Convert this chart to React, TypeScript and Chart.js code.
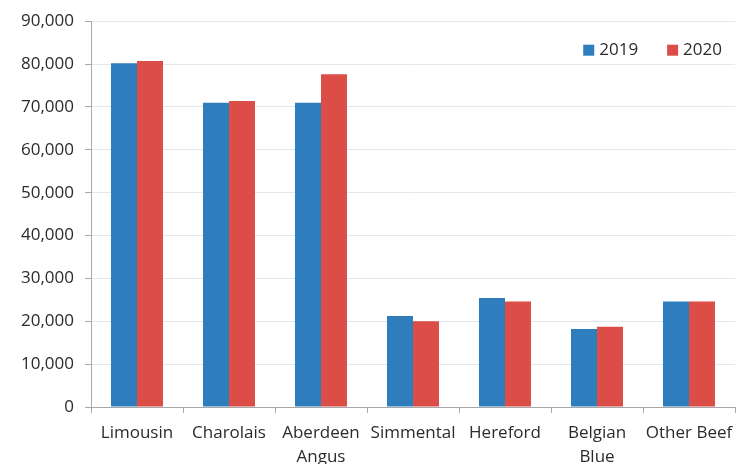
import React, { useEffect, useRef } from "react";
import { Chart, registerables } from "chart.js";

Chart.register(...registerables);

const categories: (string | string[])[] = [
  "Limousin",
  "Charolais",
  ["Aberdeen", "Angus"],
  "Simmental",
  "Hereford",
  ["Belgian", "Blue"],
  "Other Beef",
];
const values2019 = [80200, 71000, 71000, 21200, 25400, 18200, 24600];
const values2020 = [80700, 71400, 77600, 20000, 24600, 18700, 24600];
const seriesLabels = ["2019", "2020"];
const yTicks = [0, 10000, 20000, 30000, 40000, 50000, 60000, 70000, 80000, 90000];

const FONT = '"Open Sans", "DejaVu Sans", sans-serif';
const TEXT_COLOR = "#2b2b2b";

const insideLegend = {
  id: "insideLegend",
  afterDraw(chart: any) {
    const { ctx, chartArea, data } = chart;
    ctx.save();
    ctx.font = `17px ${FONT}`;
    ctx.textBaseline = "middle";
    const box = 11;
    const gapText = 5;
    const gapItem = 29;
    const cy = chartArea.top + 29;
    const items = data.datasets.map((ds: any) => ({
      label: ds.label,
      color: ds.backgroundColor,
      w: ctx.measureText(ds.label).width,
    }));
    let total = 0;
    items.forEach((it: any, i: number) => {
      total += box + gapText + it.w + (i < items.length - 1 ? gapItem : 0);
    });
    let x = chartArea.right - 13 - total;
    items.forEach((it: any) => {
      ctx.fillStyle = it.color;
      ctx.fillRect(x, cy - box / 2, box, box);
      ctx.fillStyle = TEXT_COLOR;
      ctx.textAlign = "left";
      ctx.fillText(it.label, x + box + gapText, cy);
      x += box + gapText + it.w + gapItem;
    });
    ctx.restore();
  },
};

export default function App() {
  const canvasRef = useRef<HTMLCanvasElement | null>(null);

  useEffect(() => {
    if (!canvasRef.current) return;
    const chart = new Chart(canvasRef.current, {
      type: "bar",
      data: {
        labels: categories,
        datasets: [
          {
            label: seriesLabels[0],
            data: values2019,
            backgroundColor: "#2e7ebe",
            borderWidth: 0,
            barPercentage: 1,
            categoryPercentage: 0.565,
          },
          {
            label: seriesLabels[1],
            data: values2020,
            backgroundColor: "#dc4d48",
            borderWidth: 0,
            barPercentage: 1,
            categoryPercentage: 0.565,
          },
        ],
      },
      options: {
        animation: false,
        responsive: true,
        maintainAspectRatio: false,
        layout: { padding: { left: 0, right: 1, top: 18, bottom: 0 } },
        plugins: {
          legend: { display: false },
          tooltip: { enabled: false },
        },
        scales: {
          x: {
            grid: {
              offset: true,
              drawOnChartArea: false,
              drawTicks: true,
              tickLength: 6,
              tickColor: "#a8a8a8",
            },
            border: { color: "#a8a8a8", width: 1 },
            ticks: {
              color: TEXT_COLOR,
              font: { family: FONT, size: 17, lineHeight: 1.41 },
              padding: 8,
              maxRotation: 0,
              autoSkip: false,
            },
            afterFit(scale: any) {
              scale.height = 57;
              scale.paddingLeft = 0;
              scale.paddingRight = 0;
            },
          },
          y: {
            min: 0,
            max: 90000,
            afterBuildTicks(scale: any) {
              scale.ticks = yTicks.map((v) => ({ value: v }));
            },
            grid: {
              color: "#e3e8ee",
              lineWidth: 1,
              drawTicks: true,
              tickLength: 6,
              tickColor: "#a8a8a8",
            },
            border: { color: "#a8a8a8", width: 1 },
            ticks: {
              color: TEXT_COLOR,
              font: { family: FONT, size: 17 },
              padding: 11,
              callback: (v: any) => Number(v).toLocaleString("en-US"),
            },
            afterFit(scale: any) {
              scale.width = 91;
            },
          },
        },
      },
      plugins: [insideLegend],
    });
    return () => chart.destroy();
  }, []);

  return (
    <div
      style={{
        position: "absolute",
        left: 0,
        top: 0,
        width: 736,
        height: 464,
        background: "#ffffff",
      }}
    >
      <canvas ref={canvasRef} />
    </div>
  );
}
